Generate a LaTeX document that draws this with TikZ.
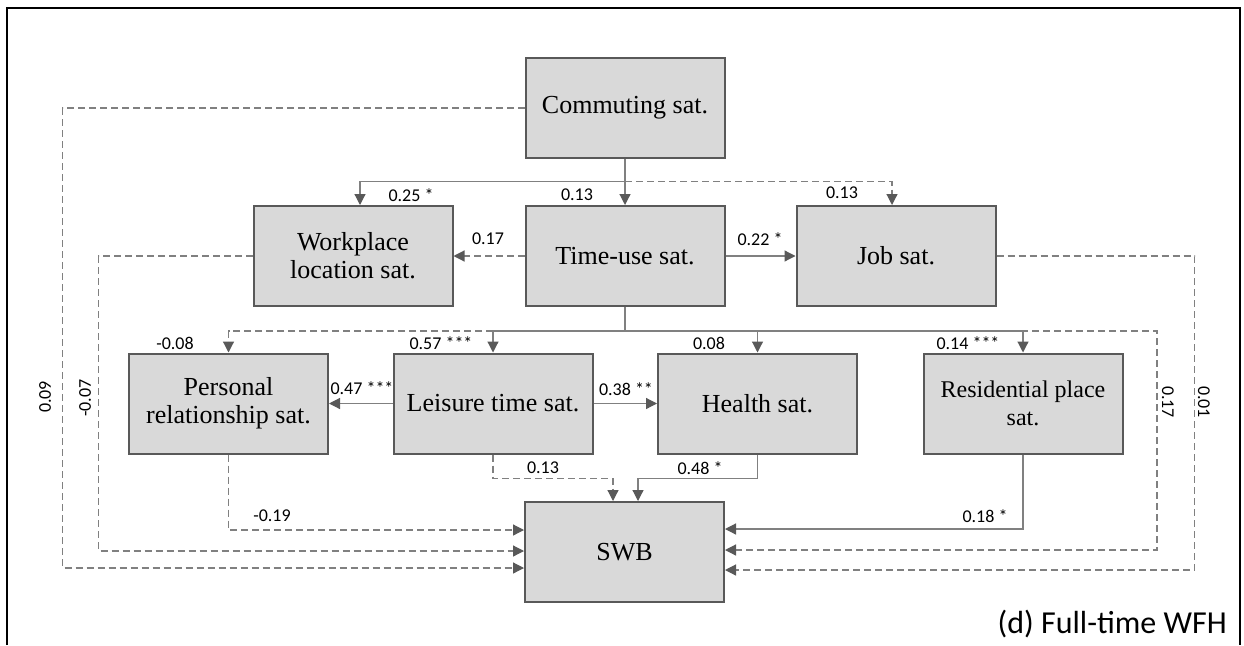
\documentclass[tikz,border=0pt]{standalone}
\usepackage{fontspec}
\setmainfont{Liberation Serif}
\newfontfamily\labfont{Carlito}
\usetikzlibrary{arrows.meta}
\definecolor{boxfill}{HTML}{D9D9D9}
\definecolor{boxline}{HTML}{595959}
\definecolor{connc}{HTML}{808080}
\definecolor{tipc}{HTML}{595959}
\begin{document}
\begin{tikzpicture}[x=1pt,y=-1pt,
  box/.style={draw=boxline, line width=2pt, fill=boxfill, minimum width=199pt, minimum height=100pt,
    inner sep=0pt, align=center, font=\fontsize{26}{28}\selectfont},
  lab/.style={font=\labfont\fontsize{18}{20}\selectfont, inner sep=0pt},
  plainc/.style={draw=connc, line width=1.2pt},
  solidc/.style={plainc, -{Triangle[length=11pt,width=11pt,color=tipc]}},
  dashc/.style={solidc, dash pattern=on 7pt off 4pt}
]
\fill[white] (0,0) rectangle (1244,645);
\path[use as bounding box] (0,0) rectangle (1244,645);
\draw[line width=2pt, black] (7,645) -- (7,8) -- (1240,8) -- (1240,645);

% nodes
\node[box] (comm) at (625,108) {Commuting sat.};
\node[box] (work) at (353,256) {Workplace\\location sat.};
\node[box] (time) at (625,256) {Time-use sat.};
\node[box] (job) at (896,256) {Job sat.};
\node[box] (pers) at (228.5,403.5) {Personal\\relationship sat.};
\node[box] (leis) at (493,403.5) {Leisure time sat.};
\node[box] (heal) at (757.5,403.5) {Health sat.};
\node[box, font=\fontsize{24}{28}\selectfont] (resi) at (1023,403.5) {Residential place\\sat.};
\node[box] (swb) at (624.5,552) {SWB};

\coordinate (cj) at (625,181.5);
\coordinate (tj) at (625,331);

% dashed connectors first
\draw[dashc] (cj) -| ([xshift=-4pt]job.north);
\draw[dashc] (time.west) -- (work.east);
\draw[dashc] (tj) -| (pers.north);
\draw[dashc] (tj) -- ++(532,0) |- ([yshift=2pt]swb.east);
\draw[dashc] (comm.west) -- ++(-462,0) |- ([yshift=-16pt]swb.west);
\draw[dashc] (work.west) -- ++(-154,0) |- ([yshift=1pt]swb.west);
\draw[dashc] (job.east) -- ++(198,0) |- ([yshift=-18pt]swb.east);
\draw[dashc] (pers.south) |- ([yshift=22pt]swb.west);
\draw[dashc] (leis.south) -- ++(0,24) -| ([xshift=-11.5pt]swb.north);

% solid connectors
\draw[solidc] (comm.south) -- (time.north);
\draw[solidc] (cj) -| ([xshift=7pt]work.north);
\draw[solidc] (time.east) -- (job.west);
\draw[plainc] (time.south) -- (tj);
\draw[solidc] (tj) -| (leis.north);
\draw[solidc] (tj) -| (heal.north);
\draw[solidc] (tj) -| (resi.north);
\draw[solidc] (leis.west) -- (pers.east);
\draw[solidc] (leis.east) -- (heal.west);
\draw[solidc] (heal.south) -- ++(0,24) -| ([xshift=13.5pt]swb.north);
\draw[solidc] (resi.south) |- ([yshift=23pt]swb.east);

% labels
\node[lab] at (411,195) {0.25 *};
\node[lab] at (577,195) {0.13};
\node[lab] at (842,193) {0.13};
\node[lab] at (488,239) {0.17};
\node[lab] at (760,239) {0.22 *};
\node[lab] at (175,343) {-0.08};
\node[lab] at (441,343) {0.57 ***};
\node[lab] at (709,343) {0.08};
\node[lab] at (968,343) {0.14 ***};
\node[lab] at (362,388) {0.47 ***};
\node[lab] at (626,389) {0.38 **};
\node[lab] at (543,468) {0.13};
\node[lab] at (700,468) {0.48 *};
\node[lab] at (272,516) {-0.19};
\node[lab] at (985,516) {0.18 *};
\node[lab, rotate=90] at (45,397) {0.09};
\node[lab, rotate=90] at (85,398) {-0.07};
\node[lab, rotate=-90] at (1168,402) {0.17};
\node[lab, rotate=-90] at (1204,402) {0.01};

\node[font=\labfont\fontsize{32}{34}\selectfont, inner sep=0pt, anchor=base east] at (1227,633) {(d) Full-time WFH};
\end{tikzpicture}
\end{document}
